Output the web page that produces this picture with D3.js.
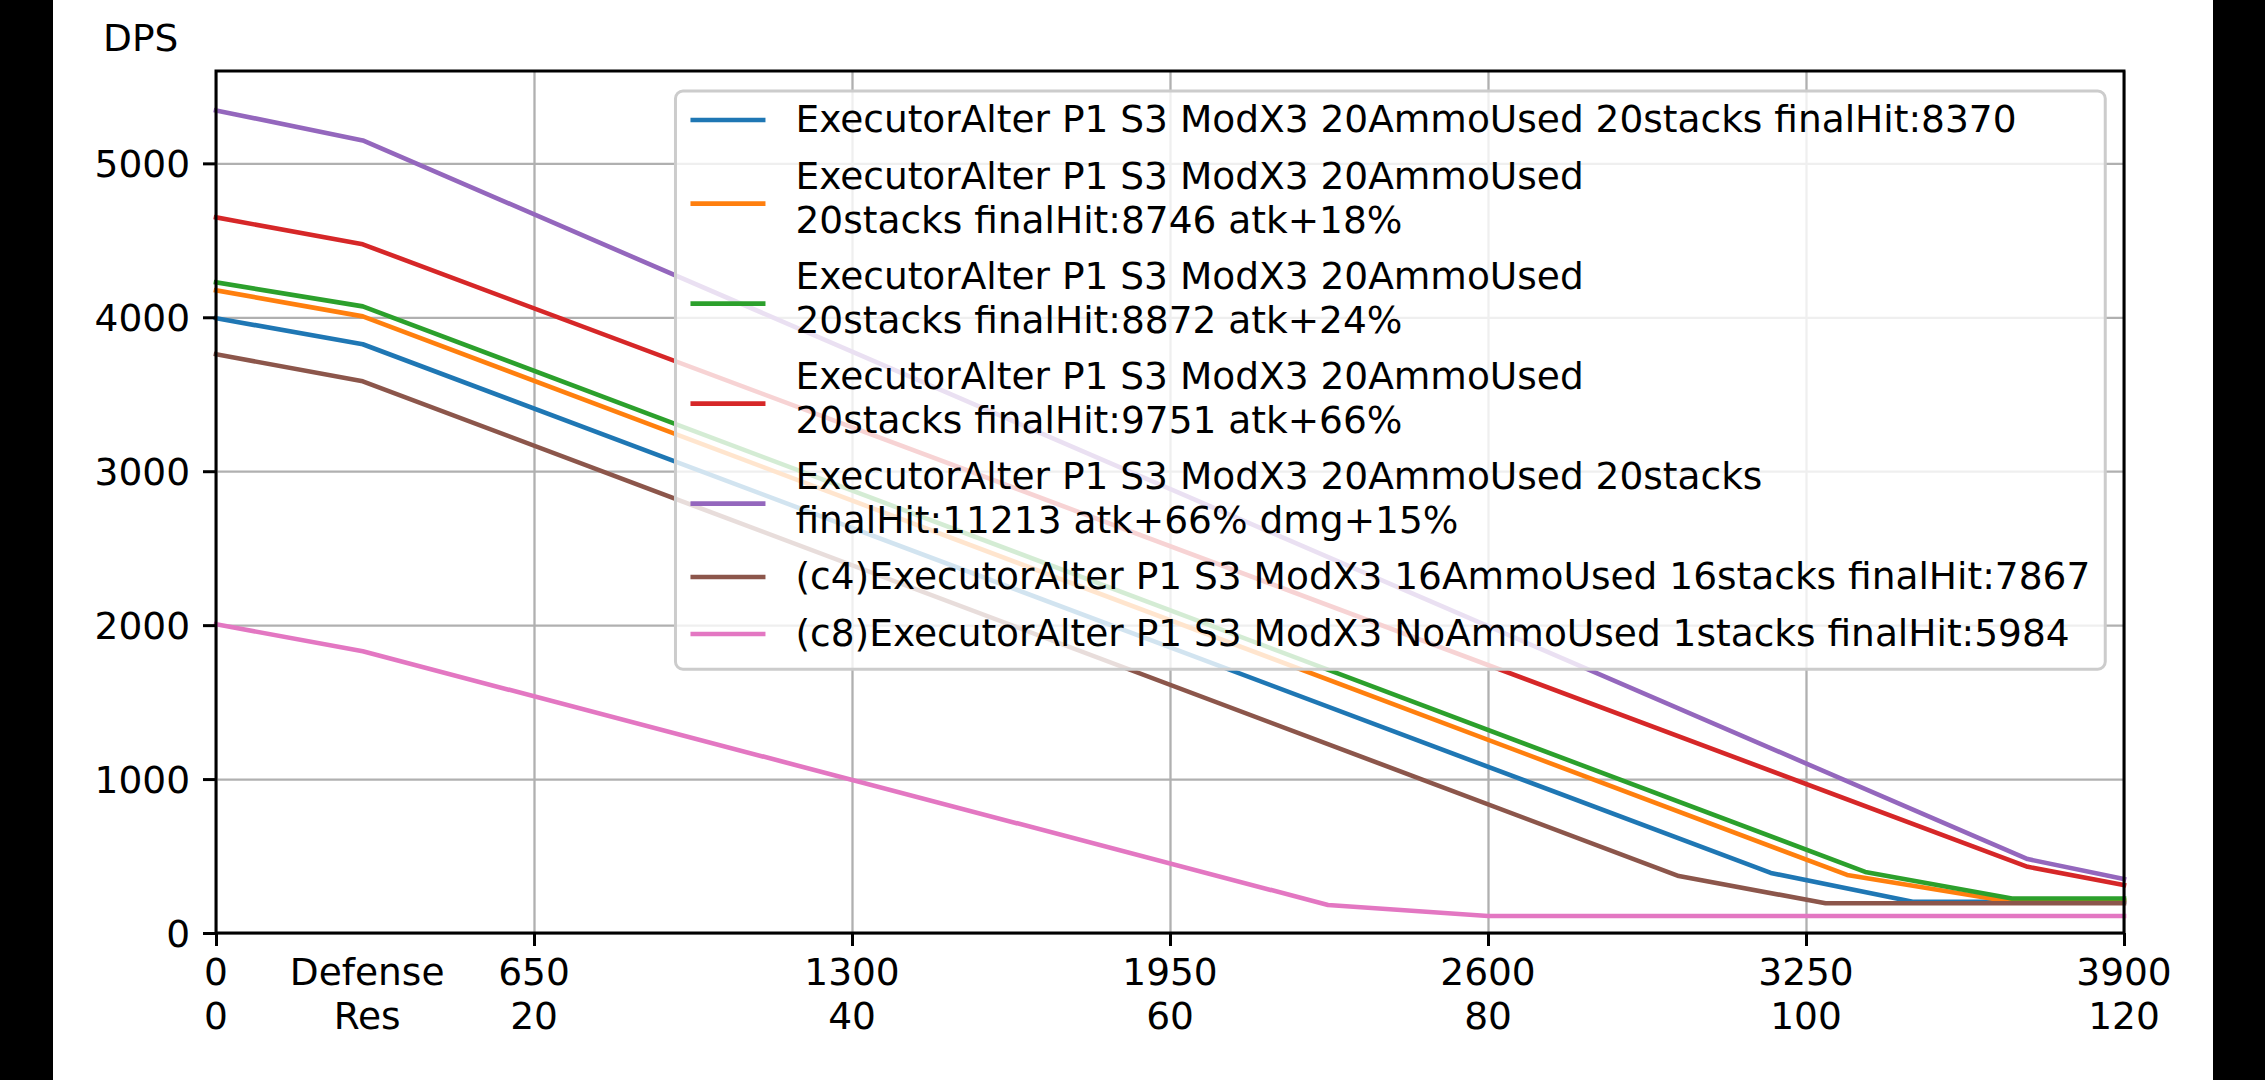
<!DOCTYPE html>
<html>
<head>
<meta charset="utf-8">
<script src="https://cdn.jsdelivr.net/npm/d3@7"></script>
<style>
  html, body { margin: 0; padding: 0; background: #000; }
  svg { display: block; }
  text { font-family: "DejaVu Sans", sans-serif; fill: #000; }
</style>
</head>
<body>
<svg id="chart" width="2265" height="1080"></svg>
<script>
// ---------------- data ----------------
const xTickDefense = [0, 650, 1300, 1950, 2600, 3250, 3900];
const xTickRes     = [0, 20, 40, 60, 80, 100, 120];
const yTicks       = [0, 1000, 2000, 3000, 4000, 5000];

const seriesNames = [
  "ExecutorAlter P1 S3 ModX3 20AmmoUsed 20stacks finalHit:8370",
  "ExecutorAlter P1 S3 ModX3 20AmmoUsed\n20stacks finalHit:8746 atk+18%",
  "ExecutorAlter P1 S3 ModX3 20AmmoUsed\n20stacks finalHit:8872 atk+24%",
  "ExecutorAlter P1 S3 ModX3 20AmmoUsed\n20stacks finalHit:9751 atk+66%",
  "ExecutorAlter P1 S3 ModX3 20AmmoUsed 20stacks\nfinalHit:11213 atk+66% dmg+15%",
  "(c4)ExecutorAlter P1 S3 ModX3 16AmmoUsed 16stacks finalHit:7867",
  "(c8)ExecutorAlter P1 S3 ModX3 NoAmmoUsed 1stacks finalHit:5984"
];
const seriesColors = ["#1f77b4", "#ff7f0e", "#2ca02c", "#d62728", "#9467bd", "#8c564b", "#e377c2"];

// defense values (x) and DPS values (y) of each line's vertices
const blueDef   = [0, 300, 3178, 3468, 3900];
const blueDps   = [3994, 3825, 390, 203, 203];
const orangeDef = [0, 300, 3334, 3650, 3900];
const orangeDps = [4175, 4006, 377, 213, 213];
const greenDef  = [0, 300, 3371, 3671, 3900];
const greenDps  = [4227, 4071, 397, 224, 224];
const redDef    = [0, 300, 3703, 3900];
const redDps    = [4649, 4474, 430, 311];
const purpleDef = [0, 300, 3703, 3900];
const purpleDps = [5344, 5149, 480, 350];
const brownDef  = [0, 300, 2990, 3290, 3900];
const brownDps  = [3760, 3584, 370, 193, 193];
const pinkDef   = [0, 300, 2273, 2600, 3900];
const pinkDps   = [2006, 1830, 182, 110, 110];

const seriesDef = [blueDef, orangeDef, greenDef, redDef, purpleDef, brownDef, pinkDef];
const seriesDps = [blueDps, orangeDps, greenDps, redDps, purpleDps, brownDps, pinkDps];

// ---------------- layout ----------------
const FS = 37.5;
const LW = 4.6;
const figL = 53, figR = 2213;
const plotL = 216, plotR = 2124, plotT = 71, plotB = 933;
const xDomain = [0, 3900], yDomain = [0, 5600];

const svg = d3.select("#chart");
svg.append("rect").attr("x", figL).attr("y", 0).attr("width", figR - figL).attr("height", 1080).attr("fill", "#fff");

const x = d3.scaleLinear().domain(xDomain).range([plotL, plotR]);
const y = d3.scaleLinear().domain(yDomain).range([plotB, plotT]);

// grid
const grid = svg.append("g");
grid.append("g").attr("transform", `translate(0,${plotB})`)
  .call(d3.axisBottom(x).tickValues(xTickDefense).tickSize(-(plotB - plotT)).tickFormat(""))
  .call(g => g.select(".domain").remove())
  .call(g => g.selectAll("line").attr("stroke", "#b0b0b0").attr("stroke-width", 2.3));
grid.append("g").attr("transform", `translate(${plotL},0)`)
  .call(d3.axisLeft(y).tickValues(yTicks).tickSize(-(plotR - plotL)).tickFormat(""))
  .call(g => g.select(".domain").remove())
  .call(g => g.selectAll("line").attr("stroke", "#b0b0b0").attr("stroke-width", 2.3));

// lines
const line = d3.line().x(d => x(d[0])).y(d => y(d[1]));
seriesDef.forEach((defs, i) => {
  const pts = defs.map((d, j) => [d, seriesDps[i][j]]);
  svg.append("path").datum(pts)
    .attr("d", line)
    .attr("fill", "none")
    .attr("stroke", seriesColors[i])
    .attr("stroke-width", LW)
    .attr("stroke-linejoin", "round")
    .attr("stroke-linecap", "square");
});

// spines
svg.append("rect").attr("x", plotL).attr("y", plotT).attr("width", plotR - plotL).attr("height", plotB - plotT)
  .attr("fill", "none").attr("stroke", "#000").attr("stroke-width", 3);

// x axis ticks
const xAxisG = svg.append("g").attr("transform", `translate(0,${plotB})`)
  .call(d3.axisBottom(x).tickValues(xTickDefense).tickSize(13).tickFormat(""));
xAxisG.select(".domain").remove();
xAxisG.selectAll("line").attr("stroke", "#000").attr("stroke-width", 3);
xTickDefense.forEach((d, i) => {
  const t = svg.append("text").attr("text-anchor", "middle").attr("font-size", FS);
  t.append("tspan").attr("x", x(d)).attr("y", 985).text(String(d));
  t.append("tspan").attr("x", x(d)).attr("y", 1029).text(String(xTickRes[i]));
});
// axis name placed among tick labels
const axName = svg.append("text").attr("text-anchor", "middle").attr("font-size", FS);
axName.append("tspan").attr("x", x(309)).attr("y", 985).text("Defense");
axName.append("tspan").attr("x", x(309)).attr("y", 1029).text("Res");

// y axis ticks
const yAxisG = svg.append("g").attr("transform", `translate(${plotL},0)`)
  .call(d3.axisLeft(y).tickValues(yTicks).tickSize(13).tickPadding(13).tickFormat(d3.format("d")));
yAxisG.select(".domain").remove();
yAxisG.selectAll("line").attr("stroke", "#000").attr("stroke-width", 3);
yAxisG.selectAll("text").attr("font-size", FS).attr("fill", "#000")
  .attr("font-family", "DejaVu Sans").attr("dy", "0.36em");

// DPS label
svg.append("text").attr("x", 103).attr("y", 51).attr("font-size", FS).text("DPS");

// ---------------- legend ----------------
const legG = svg.append("g");
const frameTop = 91;
const frameRight = plotR - FS * 0.5;
const pad = 15, handleLen = 75, handleGap = 30;
const lineStep = 44.3;
let cursor = frameTop + 10;
const entries = [];
seriesNames.forEach((name, i) => {
  const lines = name.split("\n");
  const baselines = lines.map((_, k) => cursor + 31 + k * lineStep);
  const hy = lines.length === 1 ? baselines[0] - 12 : (baselines[0] + baselines[baselines.length - 1]) / 2 - 7.5;
  entries.push({ lines, baselines, hy, color: seriesColors[i] });
  cursor += 38.25 + (lines.length - 1) * 43 + 18.75;
});
const frameBottom = cursor - 18.75 + 16;

const frame = legG.append("rect");
const textG = legG.append("g");
let maxW = 0;
entries.forEach(e => {
  const t = textG.append("text").attr("font-size", FS);
  e.lines.forEach((s, k) => {
    t.append("tspan").attr("x", 0).attr("y", e.baselines[k]).text(s);
  });
  const w = t.node().getBBox().width;
  if (w > maxW) maxW = w;
  e.node = t;
});
const frameW = pad + handleLen + handleGap + maxW + pad;
const frameLeft = frameRight - frameW;
frame.attr("x", frameLeft).attr("y", frameTop).attr("width", frameW).attr("height", frameBottom - frameTop)
  .attr("rx", 7.5).attr("ry", 7.5)
  .attr("fill", "#fff").attr("fill-opacity", 0.8)
  .attr("stroke", "#cccccc").attr("stroke-width", 3);
const textX = frameLeft + pad + handleLen + handleGap;
entries.forEach(e => {
  e.node.selectAll("tspan").attr("x", textX);
  legG.append("line")
    .attr("x1", frameLeft + pad).attr("x2", frameLeft + pad + handleLen)
    .attr("y1", e.hy).attr("y2", e.hy)
    .attr("stroke", e.color).attr("stroke-width", LW);
});
</script>
</body>
</html>
